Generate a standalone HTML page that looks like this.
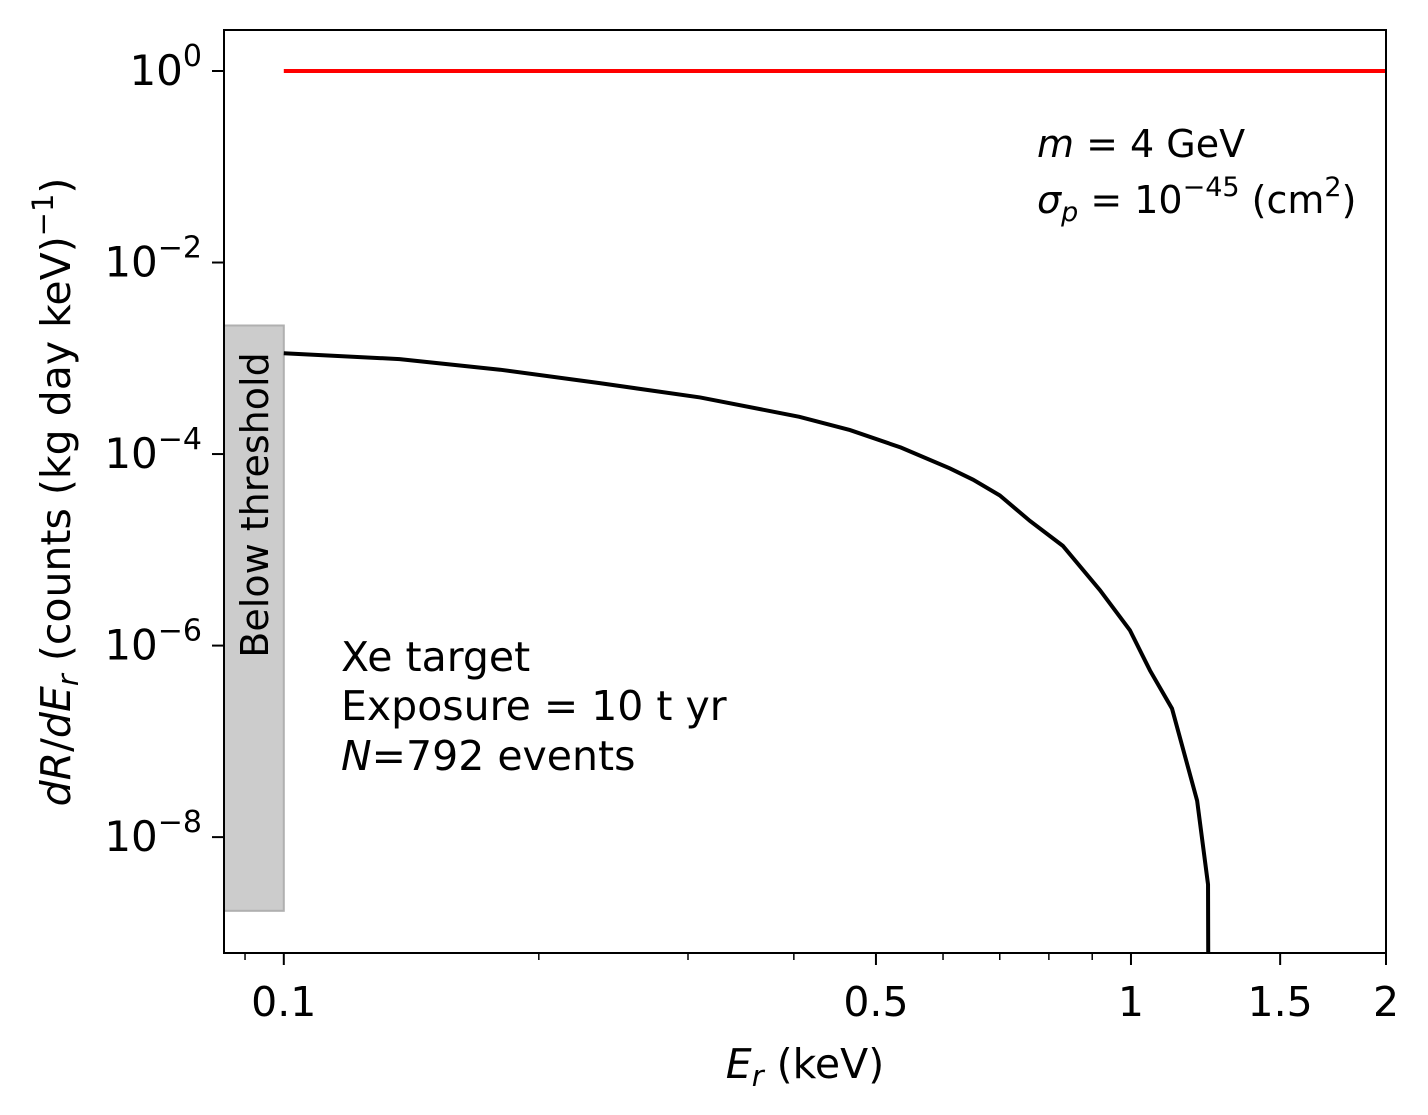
<!DOCTYPE html>
<html><head><meta charset="utf-8"><style>
html,body{margin:0;padding:0;background:#fff;overflow:hidden;width:1428px;height:1115px}
svg{display:block}
svg text{font-family:"DejaVu Sans","Liberation Sans",sans-serif;fill:#000}
</style></head><body>
<svg id="chart" width="1428" height="1115" xmlns="http://www.w3.org/2000/svg" style="position:absolute;left:0;top:0">
<g id="plot"></g>
</svg>
<script>
const energies=[0.1,0.137,0.18,0.236,0.31,0.406,0.466,0.535,0.611,0.651,0.70,0.76,0.831,0.919,0.997,1.053,1.118,1.197,1.233,1.236];
const rates=[1.13e-3,9.8e-4,7.6e-4,5.5e-4,3.9e-4,2.45e-4,1.78e-4,1.17e-4,7.1e-5,5.4e-5,3.7e-5,2.0e-5,1.1e-5,3.8e-6,1.45e-6,5.5e-7,2.2e-7,2.4e-8,3.2e-9,1e-12];
const thresholdX=[0.1,2];
const thresholdY=[1,1];
const shadeX=[0.085,0.1];
const shadeY=[1.7e-9,2.2e-3];
const xMajor=[0.1,0.5,1,1.5,2];
const xMajorLabels=["0.1","0.5","1","1.5","2"];
const xMinor=[0.09,0.2,0.3,0.4,0.6,0.7,0.8,0.9];
const yMajorExp=[0,-2,-4,-6,-8];

const L=224,R=1386,T=30,B=953;
const xmin=Math.log10(0.085),xmax=Math.log10(2),ymin=-9.21,ymax=0.428;
const X=v=>L+(Math.log10(v)-xmin)/(xmax-xmin)*(R-L);
const Y=v=>B-(Math.log10(v)-ymin)/(ymax-ymin)*(B-T);
const NS="http://www.w3.org/2000/svg";
const g=document.getElementById('plot');
function mk(t,a,p){const e=document.createElementNS(NS,t);for(const k in a)e.setAttribute(k,a[k]);(p||g).appendChild(e);return e;}

const defs=mk('clipPath',{id:'clip'});mk('rect',{x:L,y:T,width:R-L,height:B-T},defs);

const sh=mk('rect',{x:X(shadeX[0]),y:Y(shadeY[1]),width:X(shadeX[1])-X(shadeX[0]),height:Y(shadeY[0])-Y(shadeY[1]),fill:'#cccccc',stroke:'#b0b0b0','stroke-width':2});


const st=mk('text',{x:0,y:0,'font-size':38,'text-anchor':'middle',transform:'translate(268,505) rotate(-90)'});
st.textContent='Below threshold';



const rl=mk('polyline',{points:thresholdX.map((x,i)=>X(x)+','+Y(thresholdY[i])).join(' '),fill:'none',stroke:'#ff0000','stroke-width':4,'clip-path':'url(#clip)'});



const cl=mk('polyline',{points:energies.map((x,i)=>X(x)+','+Y(rates[i])).join(' '),fill:'none',stroke:'#000','stroke-width':4,'clip-path':'url(#clip)'});



const fr=mk('rect',{x:L,y:T,width:R-L,height:B-T,fill:'none',stroke:'#000','stroke-width':2});



xMajor.forEach((v,i)=>{
  mk('line',{x1:X(v),x2:X(v),y1:B,y2:B+12,stroke:'#000','stroke-width':2});
  const t=mk('text',{x:X(v),y:B+63,'font-size':41,'text-anchor':'middle'});t.textContent=xMajorLabels[i];
  
  
});
xMinor.forEach(v=>mk('line',{x1:X(v),x2:X(v),y1:B,y2:B+7,stroke:'#000','stroke-width':1.5}));
yMajorExp.forEach(e=>{
  const y=Y(Math.pow(10,e));
  mk('line',{x1:L-12,x2:L,y1:y,y2:y,stroke:'#000','stroke-width':2});
  const t=mk('text',{x:L-22,y:y+14,'font-size':42,'text-anchor':'end'});
  t.innerHTML='10<tspan dy="-19" font-size="30">'+(e<0?'−'+(-e):e)+'</tspan>';
  
  
});
</script>
<svg style="position:absolute;left:0;top:0" width="1428" height="1115" xmlns="http://www.w3.org/2000/svg">
<text x="805" y="1078" font-size="41" text-anchor="middle"><tspan font-style="italic">E</tspan><tspan font-style="italic" font-size="29" dy="8">r</tspan><tspan dy="-8"> (keV)</tspan></text>
<text transform="translate(70,492) rotate(-90)" font-size="41" text-anchor="middle"><tspan font-style="italic">dR</tspan>/<tspan font-style="italic">dE</tspan><tspan font-style="italic" font-size="29" dy="8">r</tspan><tspan dy="-8"> (counts (kg day keV)</tspan><tspan font-size="29" dy="-17">−1</tspan><tspan dy="17">)</tspan></text>
<g font-size="38">
<text x="1037" y="157"><tspan font-style="italic">m</tspan> = 4 GeV</text>
<text x="1037" y="213"><tspan font-style="italic">σ</tspan><tspan font-style="italic" font-size="27" dy="8">p</tspan><tspan dy="-8"> = 10</tspan><tspan font-size="27" dy="-17">−45</tspan><tspan dy="17"> (cm</tspan><tspan font-size="27" dy="-17">2</tspan><tspan dy="17">)</tspan></text>
</g>
<g font-size="41">
<text x="341" y="671">Xe target</text>
<text x="341" y="720">Exposure = 10 t yr</text>
<text x="341" y="770"><tspan font-style="italic">N</tspan>=792 events</text>
</g>
</svg>
</body></html>
